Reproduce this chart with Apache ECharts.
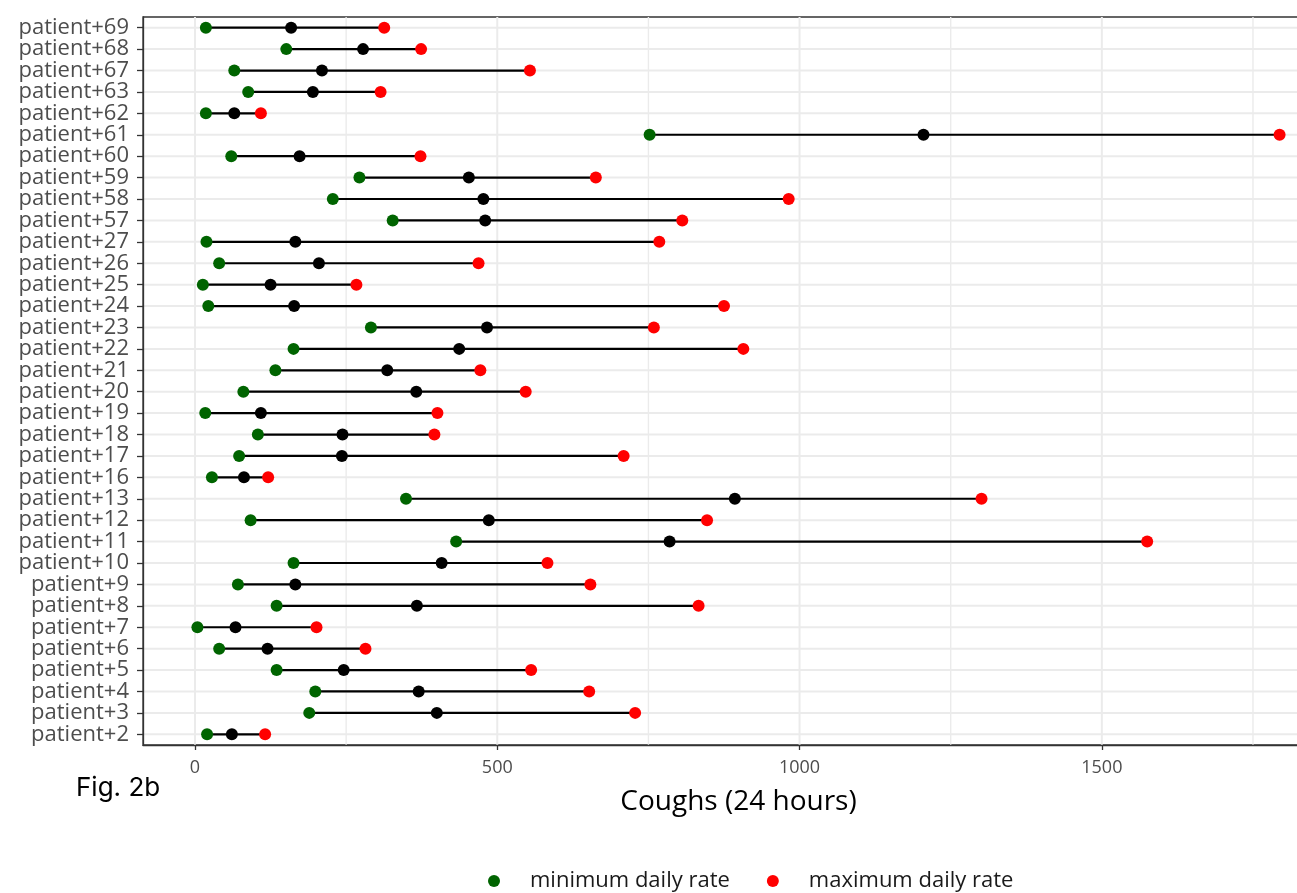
<!DOCTYPE html>
<html>
<head>
<meta charset="utf-8">
<script src="https://cdn.jsdelivr.net/npm/echarts@6/dist/echarts.min.js"></script>
<style>
html,body{margin:0;padding:0;background:#fff;}
#chart{width:1297px;height:893px;}
</style>
</head>
<body>
<div id="chart"></div>
<script>
// categories bottom -> top
const categories = ['patient+2','patient+3','patient+4','patient+5','patient+6','patient+7','patient+8','patient+9','patient+10','patient+11','patient+12','patient+13','patient+16','patient+17','patient+18','patient+19','patient+20','patient+21','patient+22','patient+23','patient+24','patient+25','patient+26','patient+27','patient+57','patient+58','patient+59','patient+60','patient+61','patient+62','patient+63','patient+67','patient+68','patient+69'];
const minRate  = [20,189,199,135,40,4,135,71,163,432,92,349,28,73,104,17,80,133,163,291,22,13,40,19,327,228,272,60,752,18,88,65,151,18];
const meanRate = [61,400,370,246,120,67,367,166,408,785,486,893,81,243,244,109,366,318,437,483,164,125,205,166,480,477,453,173,1205,65,195,210,278,159];
const maxRate  = [116,728,652,556,282,201,833,654,583,1575,847,1301,121,709,396,401,547,472,907,759,875,267,469,768,806,982,663,373,1794,109,307,554,374,313];
const xTicks = [0,500,1000,1500];
const xMinorGrid = [250,750,1250,1750];

const X_MIN = -86, X_MAX = 1884;
const chart = echarts.init(document.getElementById('chart'), null, {renderer:'canvas'});
const idx = categories.map((c,i)=>i);
const gridColor = '#EBEBEB';

const option = {
  animation:false,
  backgroundColor:'#ffffff',
  grid:{left:143, top:17, width:1191, height:728, show:true, borderColor:'#333333', borderWidth:1.3, backgroundColor:'transparent', containLabel:false, outerBoundsMode:'none'},
  xAxis:{
    type:'value', min:X_MIN, max:X_MAX,
    axisLine:{show:true, onZero:false, lineStyle:{color:'#333333', width:1.3}},
    splitLine:{show:false},
    axisTick:{show:true, customValues:xTicks, length:5, lineStyle:{color:'#333333', width:1.3}},
    axisLabel:{customValues:xTicks, margin:14, color:'#4D4D4D', fontFamily:'Open Sans', fontSize:18,
      showMinLabel:true, showMaxLabel:true, formatter:(v)=>String(v)},
    name:'Coughs (24 hours)', nameLocation:'middle', nameGap:43,
    nameTextStyle:{color:'#000000', fontFamily:'Open Sans', fontSize:28}
  },
  yAxis:{
    type:'category', data:categories, boundaryGap:true,
    axisLine:{show:true, onZero:false, lineStyle:{color:'#333333', width:1.3}},
    splitLine:{show:false},
    axisTick:{show:true, alignWithLabel:true, interval:0, length:6, lineStyle:{color:'#333333', width:1.3}},
    axisLabel:{interval:0, margin:14, color:'#4D4D4D', fontFamily:'Open Sans', fontSize:22, hideOverlap:false}
  },
  legend:{
    data:['minimum daily rate','maximum daily rate'],
    left:483, top:863, orient:'horizontal',
    itemWidth:12, itemHeight:12, itemGap:37, icon:'circle',
    textStyle:{color:'#1A1A1A', fontFamily:'Open Sans', fontSize:22, lineHeight:26, padding:[0,0,0,25]}
  },
  graphic:[{type:'text', left:76, top:775, style:{text:'Fig. 2b', fontFamily:'Inter', fontSize:26, fill:'#000000'}}],
  series:[
    {
      name:'vgrid', type:'custom', z:0, silent:true,
      data: xTicks.map(v=>[v,2]).concat(xMinorGrid.map(v=>[v,1.4])),
      encode:{x:0},
      renderItem:(params, api)=>{
        const cs = params.coordSys;
        const x = api.coord([api.value(0), 0])[0];
        return {type:'line', shape:{x1:x, y1:cs.y, x2:x, y2:cs.y+cs.height}, style:{stroke:gridColor, lineWidth:api.value(1)}};
      }
    },
    {
      name:'hgrid', type:'custom', z:0, silent:true,
      data: idx.map(i=>[0, i]),
      encode:{x:0, y:1},
      renderItem:(params, api)=>{
        const cs = params.coordSys;
        const y = api.coord([0, api.value(1)])[1];
        return {type:'line', shape:{x1:cs.x, y1:y, x2:cs.x+cs.width, y2:y}, style:{stroke:gridColor, lineWidth:2}};
      }
    },
    {
      name:'range', type:'custom', z:2, silent:true,
      data: idx.map(i=>[i, minRate[i], maxRate[i]]),
      encode:{x:[1,2], y:0},
      renderItem:(params, api)=>{
        const i = api.value(0);
        const a = api.coord([api.value(1), i]);
        const b = api.coord([api.value(2), i]);
        return {type:'line', shape:{x1:a[0], y1:a[1], x2:b[0], y2:b[1]}, style:{stroke:'#000000', lineWidth:2.2}};
      }
    },
    {
      name:'minimum daily rate', type:'scatter', z:3, symbol:'circle', symbolSize:12,
      itemStyle:{color:'#006400', opacity:1},
      data: minRate.map((v,i)=>[v,i])
    },
    {
      name:'maximum daily rate', type:'scatter', z:3, symbol:'circle', symbolSize:12,
      itemStyle:{color:'#FF0000', opacity:1},
      data: maxRate.map((v,i)=>[v,i])
    },
    {
      name:'mean daily rate', type:'scatter', z:4, symbol:'circle', symbolSize:12,
      itemStyle:{color:'#000000', opacity:1},
      data: meanRate.map((v,i)=>[v,i])
    }
  ]
};
chart.setOption(option);
</script>
</body>
</html>
